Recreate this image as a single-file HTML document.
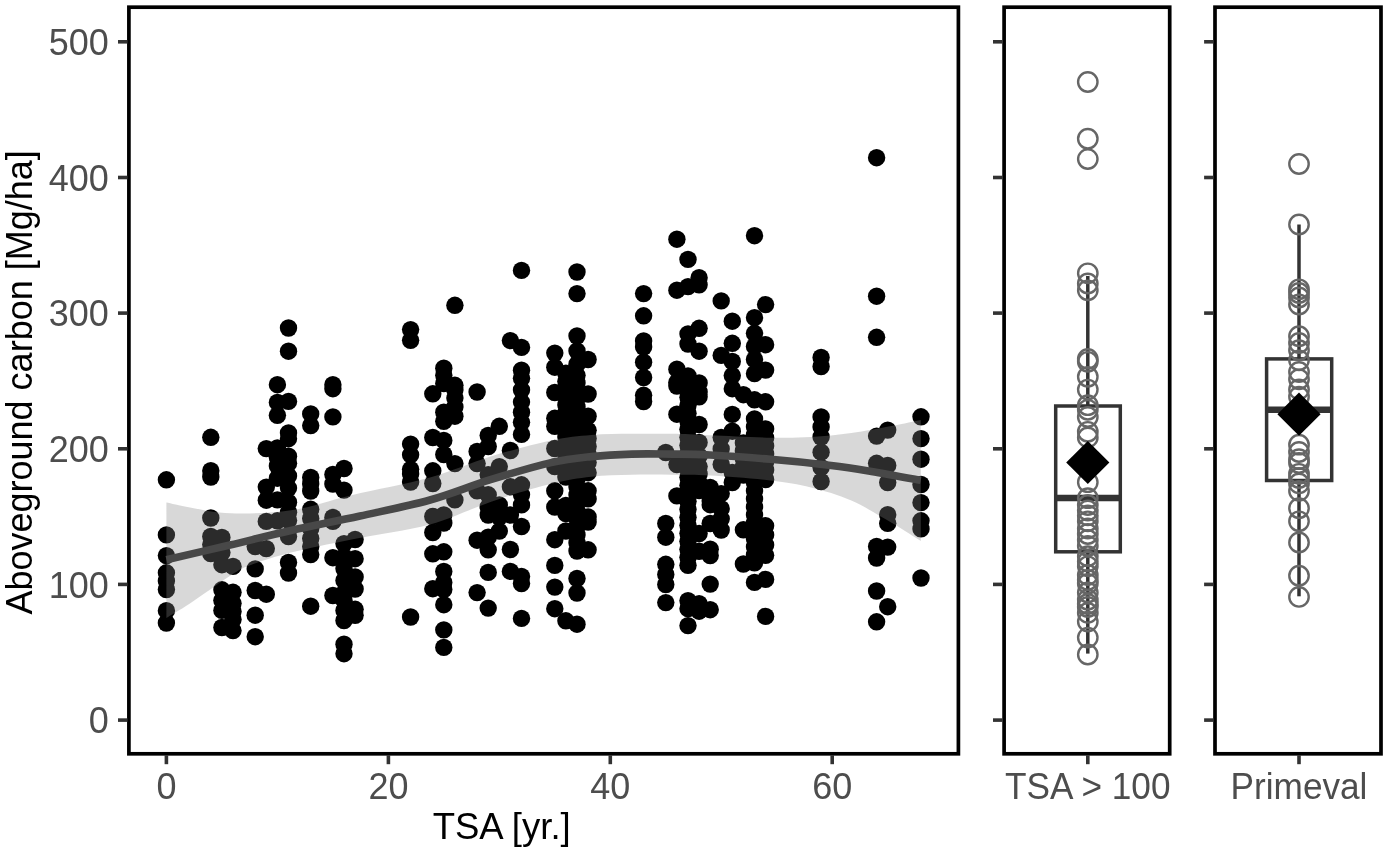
<!DOCTYPE html>
<html><head><meta charset="utf-8"><title>Aboveground carbon vs TSA</title>
<style>
html,body{margin:0;padding:0;background:#fff;}
svg{display:block}
text{font-family:"Liberation Sans",Arial,sans-serif;}
.tl{font-size:36px;fill:#4d4d4d}
.al{font-size:36px;fill:#000}
</style></head><body>
<svg width="1389" height="853" viewBox="0 0 1389 853">
<rect width="1389" height="853" fill="#fff"/>

<g fill="#000">
<circle cx="166.4" cy="479.8" r="8.7"/>
<circle cx="166.4" cy="534.9" r="8.7"/>
<circle cx="166.4" cy="555.6" r="8.7"/>
<circle cx="166.4" cy="572.8" r="8.7"/>
<circle cx="166.4" cy="581.0" r="8.7"/>
<circle cx="166.4" cy="589.5" r="8.7"/>
<circle cx="166.4" cy="610.7" r="8.7"/>
<circle cx="166.4" cy="623.0" r="8.7"/>
<circle cx="210.8" cy="437.3" r="8.7"/>
<circle cx="210.8" cy="470.7" r="8.7"/>
<circle cx="210.8" cy="477.0" r="8.7"/>
<circle cx="210.8" cy="518.0" r="8.7"/>
<circle cx="210.8" cy="536.5" r="8.7"/>
<circle cx="210.8" cy="544.6" r="8.7"/>
<circle cx="210.8" cy="553.6" r="8.7"/>
<circle cx="221.9" cy="537.5" r="8.7"/>
<circle cx="221.9" cy="552.6" r="8.7"/>
<circle cx="221.9" cy="564.7" r="8.7"/>
<circle cx="221.9" cy="589.8" r="8.7"/>
<circle cx="221.9" cy="600.3" r="8.7"/>
<circle cx="221.9" cy="610.4" r="8.7"/>
<circle cx="221.9" cy="627.5" r="8.7"/>
<circle cx="233.0" cy="566.4" r="8.7"/>
<circle cx="233.0" cy="592.3" r="8.7"/>
<circle cx="233.0" cy="603.3" r="8.7"/>
<circle cx="233.0" cy="611.4" r="8.7"/>
<circle cx="233.0" cy="619.5" r="8.7"/>
<circle cx="233.0" cy="630.6" r="8.7"/>
<circle cx="255.2" cy="546.6" r="8.7"/>
<circle cx="255.2" cy="568.9" r="8.7"/>
<circle cx="255.2" cy="590.5" r="8.7"/>
<circle cx="255.2" cy="615.2" r="8.7"/>
<circle cx="255.2" cy="636.7" r="8.7"/>
<circle cx="266.3" cy="448.6" r="8.7"/>
<circle cx="266.3" cy="487.1" r="8.7"/>
<circle cx="266.3" cy="500.2" r="8.7"/>
<circle cx="266.3" cy="521.4" r="8.7"/>
<circle cx="266.3" cy="548.6" r="8.7"/>
<circle cx="266.3" cy="594.2" r="8.7"/>
<circle cx="277.4" cy="384.7" r="8.7"/>
<circle cx="277.4" cy="402.4" r="8.7"/>
<circle cx="277.4" cy="415.3" r="8.7"/>
<circle cx="277.4" cy="448.0" r="8.7"/>
<circle cx="277.4" cy="457.5" r="8.7"/>
<circle cx="277.4" cy="466.0" r="8.7"/>
<circle cx="277.4" cy="478.2" r="8.7"/>
<circle cx="277.4" cy="499.9" r="8.7"/>
<circle cx="277.4" cy="520.8" r="8.7"/>
<circle cx="288.5" cy="328.0" r="8.7"/>
<circle cx="288.5" cy="351.2" r="8.7"/>
<circle cx="288.5" cy="401.4" r="8.7"/>
<circle cx="288.5" cy="433.0" r="8.7"/>
<circle cx="288.5" cy="438.7" r="8.7"/>
<circle cx="288.5" cy="456.2" r="8.7"/>
<circle cx="288.5" cy="463.3" r="8.7"/>
<circle cx="288.5" cy="476.0" r="8.7"/>
<circle cx="288.5" cy="488.1" r="8.7"/>
<circle cx="288.5" cy="502.2" r="8.7"/>
<circle cx="288.5" cy="512.3" r="8.7"/>
<circle cx="288.5" cy="520.4" r="8.7"/>
<circle cx="288.5" cy="536.5" r="8.7"/>
<circle cx="288.5" cy="562.5" r="8.7"/>
<circle cx="288.5" cy="573.0" r="8.7"/>
<circle cx="310.7" cy="413.9" r="8.7"/>
<circle cx="310.7" cy="425.6" r="8.7"/>
<circle cx="310.7" cy="477.5" r="8.7"/>
<circle cx="310.7" cy="484.0" r="8.7"/>
<circle cx="310.7" cy="491.0" r="8.7"/>
<circle cx="310.7" cy="509.3" r="8.7"/>
<circle cx="310.7" cy="518.4" r="8.7"/>
<circle cx="310.7" cy="528.4" r="8.7"/>
<circle cx="310.7" cy="538.5" r="8.7"/>
<circle cx="310.7" cy="546.6" r="8.7"/>
<circle cx="310.7" cy="554.6" r="8.7"/>
<circle cx="310.7" cy="606.2" r="8.7"/>
<circle cx="332.9" cy="384.7" r="8.7"/>
<circle cx="332.9" cy="388.7" r="8.7"/>
<circle cx="332.9" cy="416.9" r="8.7"/>
<circle cx="332.9" cy="474.5" r="8.7"/>
<circle cx="332.9" cy="484.0" r="8.7"/>
<circle cx="332.9" cy="517.4" r="8.7"/>
<circle cx="332.9" cy="521.4" r="8.7"/>
<circle cx="332.9" cy="557.7" r="8.7"/>
<circle cx="332.9" cy="595.5" r="8.7"/>
<circle cx="344.0" cy="468.5" r="8.7"/>
<circle cx="344.0" cy="490.1" r="8.7"/>
<circle cx="344.0" cy="543.6" r="8.7"/>
<circle cx="344.0" cy="556.7" r="8.7"/>
<circle cx="344.0" cy="568.8" r="8.7"/>
<circle cx="344.0" cy="580.5" r="8.7"/>
<circle cx="344.0" cy="592.9" r="8.7"/>
<circle cx="344.0" cy="600.3" r="8.7"/>
<circle cx="344.0" cy="610.4" r="8.7"/>
<circle cx="344.0" cy="620.5" r="8.7"/>
<circle cx="344.0" cy="644.2" r="8.7"/>
<circle cx="344.0" cy="653.7" r="8.7"/>
<circle cx="355.1" cy="539.5" r="8.7"/>
<circle cx="355.1" cy="558.7" r="8.7"/>
<circle cx="355.1" cy="577.0" r="8.7"/>
<circle cx="355.1" cy="589.0" r="8.7"/>
<circle cx="355.1" cy="609.3" r="8.7"/>
<circle cx="355.1" cy="615.3" r="8.7"/>
<circle cx="410.6" cy="329.6" r="8.7"/>
<circle cx="410.6" cy="340.3" r="8.7"/>
<circle cx="410.6" cy="444.1" r="8.7"/>
<circle cx="410.6" cy="454.8" r="8.7"/>
<circle cx="410.6" cy="469.3" r="8.7"/>
<circle cx="410.6" cy="474.0" r="8.7"/>
<circle cx="410.6" cy="482.1" r="8.7"/>
<circle cx="410.6" cy="617.0" r="8.7"/>
<circle cx="432.8" cy="393.8" r="8.7"/>
<circle cx="432.8" cy="437.5" r="8.7"/>
<circle cx="432.8" cy="470.8" r="8.7"/>
<circle cx="432.8" cy="483.5" r="8.7"/>
<circle cx="432.8" cy="516.5" r="8.7"/>
<circle cx="432.8" cy="532.5" r="8.7"/>
<circle cx="432.8" cy="553.8" r="8.7"/>
<circle cx="432.8" cy="588.7" r="8.7"/>
<circle cx="443.8" cy="368.2" r="8.7"/>
<circle cx="443.8" cy="375.3" r="8.7"/>
<circle cx="443.8" cy="383.5" r="8.7"/>
<circle cx="443.8" cy="412.2" r="8.7"/>
<circle cx="443.8" cy="421.3" r="8.7"/>
<circle cx="443.8" cy="440.4" r="8.7"/>
<circle cx="443.8" cy="454.5" r="8.7"/>
<circle cx="443.8" cy="515.0" r="8.7"/>
<circle cx="443.8" cy="523.0" r="8.7"/>
<circle cx="443.8" cy="551.8" r="8.7"/>
<circle cx="443.8" cy="571.4" r="8.7"/>
<circle cx="443.8" cy="582.5" r="8.7"/>
<circle cx="443.8" cy="589.5" r="8.7"/>
<circle cx="443.8" cy="604.7" r="8.7"/>
<circle cx="443.8" cy="629.9" r="8.7"/>
<circle cx="443.8" cy="647.4" r="8.7"/>
<circle cx="454.9" cy="305.3" r="8.7"/>
<circle cx="454.9" cy="385.3" r="8.7"/>
<circle cx="454.9" cy="390.0" r="8.7"/>
<circle cx="454.9" cy="398.1" r="8.7"/>
<circle cx="454.9" cy="407.0" r="8.7"/>
<circle cx="454.9" cy="416.2" r="8.7"/>
<circle cx="454.9" cy="463.6" r="8.7"/>
<circle cx="454.9" cy="499.9" r="8.7"/>
<circle cx="477.1" cy="392.0" r="8.7"/>
<circle cx="477.1" cy="451.5" r="8.7"/>
<circle cx="477.1" cy="463.6" r="8.7"/>
<circle cx="477.1" cy="490.8" r="8.7"/>
<circle cx="477.1" cy="540.2" r="8.7"/>
<circle cx="477.1" cy="592.6" r="8.7"/>
<circle cx="488.2" cy="435.4" r="8.7"/>
<circle cx="488.2" cy="446.5" r="8.7"/>
<circle cx="488.2" cy="474.7" r="8.7"/>
<circle cx="488.2" cy="494.8" r="8.7"/>
<circle cx="488.2" cy="507.0" r="8.7"/>
<circle cx="488.2" cy="515.0" r="8.7"/>
<circle cx="488.2" cy="537.2" r="8.7"/>
<circle cx="488.2" cy="549.8" r="8.7"/>
<circle cx="488.2" cy="572.4" r="8.7"/>
<circle cx="488.2" cy="608.1" r="8.7"/>
<circle cx="499.3" cy="426.3" r="8.7"/>
<circle cx="499.3" cy="466.6" r="8.7"/>
<circle cx="499.3" cy="504.9" r="8.7"/>
<circle cx="499.3" cy="517.0" r="8.7"/>
<circle cx="499.3" cy="531.1" r="8.7"/>
<circle cx="510.4" cy="340.6" r="8.7"/>
<circle cx="510.4" cy="450.5" r="8.7"/>
<circle cx="510.4" cy="486.8" r="8.7"/>
<circle cx="510.4" cy="515.0" r="8.7"/>
<circle cx="510.4" cy="549.5" r="8.7"/>
<circle cx="510.4" cy="571.4" r="8.7"/>
<circle cx="521.5" cy="270.4" r="8.7"/>
<circle cx="521.5" cy="347.4" r="8.7"/>
<circle cx="521.5" cy="370.2" r="8.7"/>
<circle cx="521.5" cy="378.3" r="8.7"/>
<circle cx="521.5" cy="390.0" r="8.7"/>
<circle cx="521.5" cy="402.1" r="8.7"/>
<circle cx="521.5" cy="412.2" r="8.7"/>
<circle cx="521.5" cy="422.3" r="8.7"/>
<circle cx="521.5" cy="434.4" r="8.7"/>
<circle cx="521.5" cy="484.8" r="8.7"/>
<circle cx="521.5" cy="494.8" r="8.7"/>
<circle cx="521.5" cy="504.9" r="8.7"/>
<circle cx="521.5" cy="526.5" r="8.7"/>
<circle cx="521.5" cy="576.4" r="8.7"/>
<circle cx="521.5" cy="583.5" r="8.7"/>
<circle cx="521.5" cy="618.4" r="8.7"/>
<circle cx="554.8" cy="353.1" r="8.7"/>
<circle cx="554.8" cy="367.2" r="8.7"/>
<circle cx="554.8" cy="392.5" r="8.7"/>
<circle cx="554.8" cy="418.3" r="8.7"/>
<circle cx="554.8" cy="426.3" r="8.7"/>
<circle cx="554.8" cy="448.5" r="8.7"/>
<circle cx="554.8" cy="466.6" r="8.7"/>
<circle cx="554.8" cy="490.8" r="8.7"/>
<circle cx="554.8" cy="507.0" r="8.7"/>
<circle cx="554.8" cy="539.7" r="8.7"/>
<circle cx="554.8" cy="565.4" r="8.7"/>
<circle cx="554.8" cy="587.1" r="8.7"/>
<circle cx="554.8" cy="608.7" r="8.7"/>
<circle cx="565.9" cy="373.2" r="8.7"/>
<circle cx="565.9" cy="381.3" r="8.7"/>
<circle cx="565.9" cy="389.0" r="8.7"/>
<circle cx="565.9" cy="397.0" r="8.7"/>
<circle cx="565.9" cy="405.0" r="8.7"/>
<circle cx="565.9" cy="413.0" r="8.7"/>
<circle cx="565.9" cy="421.0" r="8.7"/>
<circle cx="565.9" cy="429.0" r="8.7"/>
<circle cx="565.9" cy="437.0" r="8.7"/>
<circle cx="565.9" cy="445.0" r="8.7"/>
<circle cx="565.9" cy="453.0" r="8.7"/>
<circle cx="565.9" cy="461.0" r="8.7"/>
<circle cx="565.9" cy="469.0" r="8.7"/>
<circle cx="565.9" cy="477.0" r="8.7"/>
<circle cx="565.9" cy="505.5" r="8.7"/>
<circle cx="565.9" cy="513.5" r="8.7"/>
<circle cx="565.9" cy="531.0" r="8.7"/>
<circle cx="565.9" cy="620.8" r="8.7"/>
<circle cx="577.0" cy="272.0" r="8.7"/>
<circle cx="577.0" cy="293.6" r="8.7"/>
<circle cx="577.0" cy="336.0" r="8.7"/>
<circle cx="577.0" cy="351.0" r="8.7"/>
<circle cx="577.0" cy="364.2" r="8.7"/>
<circle cx="577.0" cy="375.3" r="8.7"/>
<circle cx="577.0" cy="383.0" r="8.7"/>
<circle cx="577.0" cy="391.0" r="8.7"/>
<circle cx="577.0" cy="399.0" r="8.7"/>
<circle cx="577.0" cy="407.0" r="8.7"/>
<circle cx="577.0" cy="415.0" r="8.7"/>
<circle cx="577.0" cy="423.0" r="8.7"/>
<circle cx="577.0" cy="431.0" r="8.7"/>
<circle cx="577.0" cy="439.0" r="8.7"/>
<circle cx="577.0" cy="447.0" r="8.7"/>
<circle cx="577.0" cy="455.0" r="8.7"/>
<circle cx="577.0" cy="463.0" r="8.7"/>
<circle cx="577.0" cy="471.0" r="8.7"/>
<circle cx="577.0" cy="479.0" r="8.7"/>
<circle cx="577.0" cy="487.0" r="8.7"/>
<circle cx="577.0" cy="495.0" r="8.7"/>
<circle cx="577.0" cy="503.0" r="8.7"/>
<circle cx="577.0" cy="511.0" r="8.7"/>
<circle cx="577.0" cy="519.0" r="8.7"/>
<circle cx="577.0" cy="527.0" r="8.7"/>
<circle cx="577.0" cy="535.0" r="8.7"/>
<circle cx="577.0" cy="543.0" r="8.7"/>
<circle cx="577.0" cy="551.0" r="8.7"/>
<circle cx="577.0" cy="578.5" r="8.7"/>
<circle cx="577.0" cy="593.0" r="8.7"/>
<circle cx="577.0" cy="624.2" r="8.7"/>
<circle cx="588.1" cy="359.5" r="8.7"/>
<circle cx="588.1" cy="394.0" r="8.7"/>
<circle cx="588.1" cy="416.2" r="8.7"/>
<circle cx="588.1" cy="430.3" r="8.7"/>
<circle cx="588.1" cy="438.4" r="8.7"/>
<circle cx="588.1" cy="446.5" r="8.7"/>
<circle cx="588.1" cy="454.5" r="8.7"/>
<circle cx="588.1" cy="462.6" r="8.7"/>
<circle cx="588.1" cy="472.7" r="8.7"/>
<circle cx="588.1" cy="490.8" r="8.7"/>
<circle cx="588.1" cy="498.9" r="8.7"/>
<circle cx="588.1" cy="517.0" r="8.7"/>
<circle cx="588.1" cy="522.0" r="8.7"/>
<circle cx="588.1" cy="549.8" r="8.7"/>
<circle cx="643.6" cy="293.6" r="8.7"/>
<circle cx="643.6" cy="315.8" r="8.7"/>
<circle cx="643.6" cy="341.0" r="8.7"/>
<circle cx="643.6" cy="347.0" r="8.7"/>
<circle cx="643.6" cy="362.2" r="8.7"/>
<circle cx="643.6" cy="377.5" r="8.7"/>
<circle cx="643.6" cy="395.3" r="8.7"/>
<circle cx="643.6" cy="401.5" r="8.7"/>
<circle cx="665.8" cy="452.5" r="8.7"/>
<circle cx="665.8" cy="523.5" r="8.7"/>
<circle cx="665.8" cy="537.2" r="8.7"/>
<circle cx="665.8" cy="564.3" r="8.7"/>
<circle cx="665.8" cy="574.4" r="8.7"/>
<circle cx="665.8" cy="584.5" r="8.7"/>
<circle cx="665.8" cy="602.6" r="8.7"/>
<circle cx="676.9" cy="239.2" r="8.7"/>
<circle cx="676.9" cy="290.2" r="8.7"/>
<circle cx="676.9" cy="369.2" r="8.7"/>
<circle cx="676.9" cy="382.3" r="8.7"/>
<circle cx="676.9" cy="386.0" r="8.7"/>
<circle cx="676.9" cy="414.2" r="8.7"/>
<circle cx="676.9" cy="464.6" r="8.7"/>
<circle cx="676.9" cy="495.9" r="8.7"/>
<circle cx="688.0" cy="259.4" r="8.7"/>
<circle cx="688.0" cy="286.6" r="8.7"/>
<circle cx="688.0" cy="333.9" r="8.7"/>
<circle cx="688.0" cy="344.0" r="8.7"/>
<circle cx="688.0" cy="376.0" r="8.7"/>
<circle cx="688.0" cy="381.3" r="8.7"/>
<circle cx="688.0" cy="389.3" r="8.7"/>
<circle cx="688.0" cy="397.3" r="8.7"/>
<circle cx="688.0" cy="405.3" r="8.7"/>
<circle cx="688.0" cy="413.3" r="8.7"/>
<circle cx="688.0" cy="421.3" r="8.7"/>
<circle cx="688.0" cy="429.3" r="8.7"/>
<circle cx="688.0" cy="437.3" r="8.7"/>
<circle cx="688.0" cy="445.3" r="8.7"/>
<circle cx="688.0" cy="453.3" r="8.7"/>
<circle cx="688.0" cy="461.3" r="8.7"/>
<circle cx="688.0" cy="469.3" r="8.7"/>
<circle cx="688.0" cy="477.3" r="8.7"/>
<circle cx="688.0" cy="485.3" r="8.7"/>
<circle cx="688.0" cy="493.3" r="8.7"/>
<circle cx="688.0" cy="501.3" r="8.7"/>
<circle cx="688.0" cy="509.3" r="8.7"/>
<circle cx="688.0" cy="517.3" r="8.7"/>
<circle cx="688.0" cy="525.3" r="8.7"/>
<circle cx="688.0" cy="533.3" r="8.7"/>
<circle cx="688.0" cy="541.3" r="8.7"/>
<circle cx="688.0" cy="549.3" r="8.7"/>
<circle cx="688.0" cy="557.3" r="8.7"/>
<circle cx="688.0" cy="565.3" r="8.7"/>
<circle cx="688.0" cy="600.6" r="8.7"/>
<circle cx="688.0" cy="608.7" r="8.7"/>
<circle cx="688.0" cy="625.6" r="8.7"/>
<circle cx="699.1" cy="277.7" r="8.7"/>
<circle cx="699.1" cy="284.8" r="8.7"/>
<circle cx="699.1" cy="328.3" r="8.7"/>
<circle cx="699.1" cy="351.2" r="8.7"/>
<circle cx="699.1" cy="382.9" r="8.7"/>
<circle cx="699.1" cy="392.0" r="8.7"/>
<circle cx="699.1" cy="396.8" r="8.7"/>
<circle cx="699.1" cy="424.5" r="8.7"/>
<circle cx="699.1" cy="442.4" r="8.7"/>
<circle cx="699.1" cy="456.0" r="8.7"/>
<circle cx="699.1" cy="466.6" r="8.7"/>
<circle cx="699.1" cy="474.0" r="8.7"/>
<circle cx="699.1" cy="482.8" r="8.7"/>
<circle cx="699.1" cy="490.6" r="8.7"/>
<circle cx="699.1" cy="533.5" r="8.7"/>
<circle cx="699.1" cy="551.3" r="8.7"/>
<circle cx="699.1" cy="603.7" r="8.7"/>
<circle cx="699.1" cy="611.2" r="8.7"/>
<circle cx="710.2" cy="487.5" r="8.7"/>
<circle cx="710.2" cy="500.9" r="8.7"/>
<circle cx="710.2" cy="504.7" r="8.7"/>
<circle cx="710.2" cy="523.5" r="8.7"/>
<circle cx="710.2" cy="549.2" r="8.7"/>
<circle cx="710.2" cy="555.6" r="8.7"/>
<circle cx="710.2" cy="584.1" r="8.7"/>
<circle cx="710.2" cy="609.7" r="8.7"/>
<circle cx="721.2" cy="300.9" r="8.7"/>
<circle cx="721.2" cy="355.4" r="8.7"/>
<circle cx="721.2" cy="437.5" r="8.7"/>
<circle cx="721.2" cy="449.0" r="8.7"/>
<circle cx="721.2" cy="464.5" r="8.7"/>
<circle cx="721.2" cy="493.6" r="8.7"/>
<circle cx="721.2" cy="508.7" r="8.7"/>
<circle cx="721.2" cy="518.8" r="8.7"/>
<circle cx="721.2" cy="530.0" r="8.7"/>
<circle cx="732.3" cy="321.2" r="8.7"/>
<circle cx="732.3" cy="343.3" r="8.7"/>
<circle cx="732.3" cy="361.5" r="8.7"/>
<circle cx="732.3" cy="375.6" r="8.7"/>
<circle cx="732.3" cy="388.7" r="8.7"/>
<circle cx="732.3" cy="414.4" r="8.7"/>
<circle cx="732.3" cy="431.2" r="8.7"/>
<circle cx="732.3" cy="472.5" r="8.7"/>
<circle cx="732.3" cy="482.5" r="8.7"/>
<circle cx="743.4" cy="394.7" r="8.7"/>
<circle cx="743.4" cy="443.0" r="8.7"/>
<circle cx="743.4" cy="451.0" r="8.7"/>
<circle cx="743.4" cy="459.0" r="8.7"/>
<circle cx="743.4" cy="467.0" r="8.7"/>
<circle cx="743.4" cy="475.0" r="8.7"/>
<circle cx="743.4" cy="529.8" r="8.7"/>
<circle cx="743.4" cy="564.0" r="8.7"/>
<circle cx="754.5" cy="235.7" r="8.7"/>
<circle cx="754.5" cy="317.7" r="8.7"/>
<circle cx="754.5" cy="333.3" r="8.7"/>
<circle cx="754.5" cy="346.4" r="8.7"/>
<circle cx="754.5" cy="359.5" r="8.7"/>
<circle cx="754.5" cy="373.6" r="8.7"/>
<circle cx="754.5" cy="399.8" r="8.7"/>
<circle cx="754.5" cy="418.9" r="8.7"/>
<circle cx="754.5" cy="426.9" r="8.7"/>
<circle cx="754.5" cy="434.9" r="8.7"/>
<circle cx="754.5" cy="442.9" r="8.7"/>
<circle cx="754.5" cy="450.9" r="8.7"/>
<circle cx="754.5" cy="458.9" r="8.7"/>
<circle cx="754.5" cy="466.9" r="8.7"/>
<circle cx="754.5" cy="474.9" r="8.7"/>
<circle cx="754.5" cy="482.9" r="8.7"/>
<circle cx="754.5" cy="490.9" r="8.7"/>
<circle cx="754.5" cy="498.9" r="8.7"/>
<circle cx="754.5" cy="506.9" r="8.7"/>
<circle cx="754.5" cy="514.9" r="8.7"/>
<circle cx="754.5" cy="522.9" r="8.7"/>
<circle cx="754.5" cy="530.9" r="8.7"/>
<circle cx="754.5" cy="538.9" r="8.7"/>
<circle cx="754.5" cy="546.9" r="8.7"/>
<circle cx="754.5" cy="554.9" r="8.7"/>
<circle cx="754.5" cy="562.9" r="8.7"/>
<circle cx="754.5" cy="582.4" r="8.7"/>
<circle cx="765.6" cy="304.6" r="8.7"/>
<circle cx="765.6" cy="344.7" r="8.7"/>
<circle cx="765.6" cy="370.1" r="8.7"/>
<circle cx="765.6" cy="401.8" r="8.7"/>
<circle cx="765.6" cy="429.0" r="8.7"/>
<circle cx="765.6" cy="438.0" r="8.7"/>
<circle cx="765.6" cy="446.0" r="8.7"/>
<circle cx="765.6" cy="454.0" r="8.7"/>
<circle cx="765.6" cy="462.0" r="8.7"/>
<circle cx="765.6" cy="470.0" r="8.7"/>
<circle cx="765.6" cy="479.5" r="8.7"/>
<circle cx="765.6" cy="525.8" r="8.7"/>
<circle cx="765.6" cy="534.9" r="8.7"/>
<circle cx="765.6" cy="545.0" r="8.7"/>
<circle cx="765.6" cy="555.3" r="8.7"/>
<circle cx="765.6" cy="579.4" r="8.7"/>
<circle cx="765.6" cy="616.4" r="8.7"/>
<circle cx="821.1" cy="357.4" r="8.7"/>
<circle cx="821.1" cy="366.5" r="8.7"/>
<circle cx="821.1" cy="416.9" r="8.7"/>
<circle cx="821.1" cy="427.0" r="8.7"/>
<circle cx="821.1" cy="437.0" r="8.7"/>
<circle cx="821.1" cy="452.2" r="8.7"/>
<circle cx="821.1" cy="467.4" r="8.7"/>
<circle cx="821.1" cy="481.5" r="8.7"/>
<circle cx="876.6" cy="157.7" r="8.7"/>
<circle cx="876.6" cy="296.2" r="8.7"/>
<circle cx="876.6" cy="337.3" r="8.7"/>
<circle cx="876.6" cy="436.1" r="8.7"/>
<circle cx="876.6" cy="463.3" r="8.7"/>
<circle cx="876.6" cy="546.4" r="8.7"/>
<circle cx="876.6" cy="558.0" r="8.7"/>
<circle cx="876.6" cy="591.0" r="8.7"/>
<circle cx="876.6" cy="621.8" r="8.7"/>
<circle cx="887.7" cy="430.1" r="8.7"/>
<circle cx="887.7" cy="465.4" r="8.7"/>
<circle cx="887.7" cy="482.5" r="8.7"/>
<circle cx="887.7" cy="514.7" r="8.7"/>
<circle cx="887.7" cy="523.3" r="8.7"/>
<circle cx="887.7" cy="547.1" r="8.7"/>
<circle cx="887.7" cy="606.7" r="8.7"/>
<circle cx="921.0" cy="416.8" r="8.7"/>
<circle cx="921.0" cy="438.6" r="8.7"/>
<circle cx="921.0" cy="459.2" r="8.7"/>
<circle cx="921.0" cy="484.5" r="8.7"/>
<circle cx="921.0" cy="502.6" r="8.7"/>
<circle cx="921.0" cy="520.8" r="8.7"/>
<circle cx="921.0" cy="528.9" r="8.7"/>
<circle cx="921.0" cy="578.0" r="8.7"/>
</g>
<path d="M166.4,502.6 C170.3,503.4 179.3,505.7 190.0,507.5 C200.7,509.3 213.8,512.8 230.6,513.3 C247.4,513.8 270.8,513.3 291.0,510.3 C311.2,507.3 328.4,500.7 351.6,495.2 C374.8,489.7 406.9,483.9 430.0,477.5 C453.1,471.1 470.3,462.8 490.5,456.6 C510.7,450.4 534.2,444.0 551.0,440.4 C567.8,436.8 577.9,436.1 591.3,435.0 C604.7,433.9 618.2,434.0 631.6,433.8 C645.0,433.6 658.8,433.6 671.9,433.8 C685.0,434.0 693.5,434.6 710.0,435.2 C726.5,435.8 753.8,437.4 770.6,437.7 C787.4,438.0 797.5,437.9 811.0,437.1 C824.5,436.3 837.9,435.0 851.3,433.1 C864.7,431.2 880.0,428.2 891.6,426.0 C903.2,423.8 915.9,421.0 920.8,420.0 L920.8,541.0 C915.9,538.0 903.2,529.5 891.6,522.8 C880.0,516.1 864.7,506.5 851.3,500.6 C837.9,494.7 824.5,490.9 811.0,487.5 C797.5,484.1 787.4,482.5 770.6,480.5 C753.8,478.5 726.5,476.6 710.0,475.6 C693.5,474.6 685.0,474.9 671.9,474.7 C658.8,474.5 645.0,474.4 631.6,474.7 C618.2,475.0 604.7,475.2 591.3,476.7 C577.9,478.2 567.8,479.6 551.0,483.8 C534.2,488.0 510.7,495.1 490.5,501.9 C470.3,508.7 453.1,518.2 430.0,524.5 C406.9,530.8 374.8,534.8 351.6,539.5 C328.4,544.2 307.8,548.4 291.0,552.6 C274.2,556.9 260.9,561.2 250.8,565.0 C240.7,568.8 240.7,569.1 230.6,575.5 C220.5,581.9 201.0,596.2 190.3,603.3 C179.6,610.4 170.4,615.5 166.4,618.0 Z" fill="#858585" fill-opacity="0.32"/>
<path d="M166.4,559.7 C177.0,557.2 209.2,549.9 230.0,545.0 C250.8,540.1 269.3,535.3 291.0,530.5 C312.7,525.7 336.8,521.1 360.0,516.0 C383.2,510.9 408.2,506.1 430.0,500.0 C451.8,493.9 470.3,485.9 490.5,479.7 C510.7,473.5 534.2,466.5 551.0,462.6 C567.8,458.8 577.9,458.0 591.3,456.6 C604.7,455.2 618.2,454.5 631.6,454.1 C645.0,453.7 658.8,454.0 671.9,454.1 C685.0,454.2 693.5,454.1 710.0,455.0 C726.5,455.9 750.4,457.6 770.6,459.3 C790.8,461.0 814.3,463.4 831.1,465.4 C847.9,467.4 856.5,468.9 871.4,471.4 C886.3,473.9 912.6,478.8 920.8,480.3" fill="none" stroke="#484848" stroke-width="7.6"/>
<g fill="none" stroke="#333" stroke-width="3.5">
<line x1="1087.8" x2="1087.8" y1="276" y2="406"/>
<line x1="1087.8" x2="1087.8" y1="551.8" y2="653.6"/>
<rect x="1055.7" y="406" width="64.59999999999991" height="145.79999999999995" fill="#fff"/>
<line x1="1055.7" x2="1120.3" y1="498" y2="498" stroke-width="6.6"/>
</g>
<g fill="none" stroke="#666" stroke-width="2.4">
<circle cx="1087.8" cy="82" r="9.7"/>
<circle cx="1087.8" cy="138.7" r="9.7"/>
<circle cx="1087.8" cy="159.1" r="9.7"/>
<circle cx="1087.8" cy="273.3" r="9.7"/>
<circle cx="1087.8" cy="283.5" r="9.7"/>
<circle cx="1087.8" cy="290.3" r="9.7"/>
<circle cx="1087.8" cy="358.9" r="9.7"/>
<circle cx="1087.8" cy="361.8" r="9.7"/>
<circle cx="1087.8" cy="376.8" r="9.7"/>
<circle cx="1087.8" cy="389.6" r="9.7"/>
<circle cx="1087.8" cy="405.2" r="9.7"/>
<circle cx="1087.8" cy="409.8" r="9.7"/>
<circle cx="1087.8" cy="417" r="9.7"/>
<circle cx="1087.8" cy="431.8" r="9.7"/>
<circle cx="1087.8" cy="437.4" r="9.7"/>
<circle cx="1087.8" cy="482.2" r="9.7"/>
<circle cx="1087.8" cy="498.2" r="9.7"/>
<circle cx="1087.8" cy="505" r="9.7"/>
<circle cx="1087.8" cy="510.5" r="9.7"/>
<circle cx="1087.8" cy="515.4" r="9.7"/>
<circle cx="1087.8" cy="521.3" r="9.7"/>
<circle cx="1087.8" cy="528.5" r="9.7"/>
<circle cx="1087.8" cy="534" r="9.7"/>
<circle cx="1087.8" cy="540" r="9.7"/>
<circle cx="1087.8" cy="546" r="9.7"/>
<circle cx="1087.8" cy="556.2" r="9.7"/>
<circle cx="1087.8" cy="561.5" r="9.7"/>
<circle cx="1087.8" cy="566.3" r="9.7"/>
<circle cx="1087.8" cy="575" r="9.7"/>
<circle cx="1087.8" cy="580" r="9.7"/>
<circle cx="1087.8" cy="583.8" r="9.7"/>
<circle cx="1087.8" cy="592.5" r="9.7"/>
<circle cx="1087.8" cy="599.8" r="9.7"/>
<circle cx="1087.8" cy="604" r="9.7"/>
<circle cx="1087.8" cy="607" r="9.7"/>
<circle cx="1087.8" cy="612.9" r="9.7"/>
<circle cx="1087.8" cy="621.6" r="9.7"/>
<circle cx="1087.8" cy="637.6" r="9.7"/>
<circle cx="1087.8" cy="654.5" r="9.7"/>
</g>
<path d="M1066.2,462.5 L1087.8,440.9 L1109.3999999999999,462.5 L1087.8,484.1 Z" fill="#000"/>
<g fill="none" stroke="#333" stroke-width="3.5">
<line x1="1299.0" x2="1299.0" y1="224.5" y2="358.9"/>
<line x1="1299.0" x2="1299.0" y1="480.5" y2="596.3"/>
<rect x="1266.6" y="358.9" width="65.10000000000014" height="121.60000000000002" fill="#fff"/>
<line x1="1266.6" x2="1331.7" y1="409.8" y2="409.8" stroke-width="6.6"/>
</g>
<g fill="none" stroke="#666" stroke-width="2.4">
<circle cx="1299.0" cy="164" r="9.7"/>
<circle cx="1299.0" cy="224.5" r="9.7"/>
<circle cx="1299.0" cy="289.3" r="9.7"/>
<circle cx="1299.0" cy="293" r="9.7"/>
<circle cx="1299.0" cy="297.5" r="9.7"/>
<circle cx="1299.0" cy="304.5" r="9.7"/>
<circle cx="1299.0" cy="336.2" r="9.7"/>
<circle cx="1299.0" cy="343" r="9.7"/>
<circle cx="1299.0" cy="350.2" r="9.7"/>
<circle cx="1299.0" cy="360.3" r="9.7"/>
<circle cx="1299.0" cy="372" r="9.7"/>
<circle cx="1299.0" cy="379.3" r="9.7"/>
<circle cx="1299.0" cy="389.4" r="9.7"/>
<circle cx="1299.0" cy="396.7" r="9.7"/>
<circle cx="1299.0" cy="444.7" r="9.7"/>
<circle cx="1299.0" cy="452" r="9.7"/>
<circle cx="1299.0" cy="459.2" r="9.7"/>
<circle cx="1299.0" cy="463" r="9.7"/>
<circle cx="1299.0" cy="473.8" r="9.7"/>
<circle cx="1299.0" cy="478" r="9.7"/>
<circle cx="1299.0" cy="483.4" r="9.7"/>
<circle cx="1299.0" cy="490.9" r="9.7"/>
<circle cx="1299.0" cy="508.2" r="9.7"/>
<circle cx="1299.0" cy="521.3" r="9.7"/>
<circle cx="1299.0" cy="542.5" r="9.7"/>
<circle cx="1299.0" cy="575.7" r="9.7"/>
<circle cx="1299.0" cy="596.9" r="9.7"/>
</g>
<path d="M1277.4,414.2 L1299.0,392.59999999999997 L1320.6,414.2 L1299.0,435.8 Z" fill="#000"/>
<g fill="none" stroke="#000" stroke-width="3.7">
<rect x="128.9" y="7.2" width="829.5" height="746.6"/>
<rect x="1004.1" y="7.2" width="165.6" height="746.6"/>
<rect x="1215" y="7.2" width="166" height="746.6"/>
</g>
<g stroke="#333" stroke-width="3.6">
<line x1="118" x2="127.5" y1="720.1" y2="720.1"/>
<line x1="993" x2="1002.5" y1="720.1" y2="720.1"/>
<line x1="1204.1" x2="1213.5" y1="720.1" y2="720.1"/>
<line x1="118" x2="127.5" y1="584.4" y2="584.4"/>
<line x1="993" x2="1002.5" y1="584.4" y2="584.4"/>
<line x1="1204.1" x2="1213.5" y1="584.4" y2="584.4"/>
<line x1="118" x2="127.5" y1="448.8" y2="448.8"/>
<line x1="993" x2="1002.5" y1="448.8" y2="448.8"/>
<line x1="1204.1" x2="1213.5" y1="448.8" y2="448.8"/>
<line x1="118" x2="127.5" y1="313.1" y2="313.1"/>
<line x1="993" x2="1002.5" y1="313.1" y2="313.1"/>
<line x1="1204.1" x2="1213.5" y1="313.1" y2="313.1"/>
<line x1="118" x2="127.5" y1="177.5" y2="177.5"/>
<line x1="993" x2="1002.5" y1="177.5" y2="177.5"/>
<line x1="1204.1" x2="1213.5" y1="177.5" y2="177.5"/>
<line x1="118" x2="127.5" y1="41.8" y2="41.8"/>
<line x1="993" x2="1002.5" y1="41.8" y2="41.8"/>
<line x1="1204.1" x2="1213.5" y1="41.8" y2="41.8"/>
<line x1="166.4" x2="166.4" y1="755.2" y2="764.2"/>
<line x1="388.4" x2="388.4" y1="755.2" y2="764.2"/>
<line x1="610.3" x2="610.3" y1="755.2" y2="764.2"/>
<line x1="832.2" x2="832.2" y1="755.2" y2="764.2"/>
<line x1="1087.8" x2="1087.8" y1="755.2" y2="764.2"/>
<line x1="1299" x2="1299" y1="755.2" y2="764.2"/>
</g>
<text class="tl" x="108.8" y="733.3" text-anchor="end">0</text>
<text class="tl" x="108.8" y="597.6" text-anchor="end">100</text>
<text class="tl" x="108.8" y="462.0" text-anchor="end">200</text>
<text class="tl" x="108.8" y="326.3" text-anchor="end">300</text>
<text class="tl" x="108.8" y="190.7" text-anchor="end">400</text>
<text class="tl" x="108.8" y="55.0" text-anchor="end">500</text>
<text class="tl" x="166.4" y="798.6" text-anchor="middle">0</text>
<text class="tl" x="388.4" y="798.6" text-anchor="middle">20</text>
<text class="tl" x="610.3" y="798.6" text-anchor="middle">40</text>
<text class="tl" x="832.2" y="798.6" text-anchor="middle">60</text>
<text class="tl" x="1087.8" y="798.6" text-anchor="middle" textLength="165.4" lengthAdjust="spacingAndGlyphs">TSA &gt; 100</text>
<text class="tl" x="1299" y="798.6" text-anchor="middle" textLength="136.9" lengthAdjust="spacingAndGlyphs">Primeval</text>
<text class="al" x="501.7" y="838.8" text-anchor="middle" textLength="138" lengthAdjust="spacingAndGlyphs">TSA [yr.]</text>
<text class="al" transform="translate(31.6,382.4) rotate(-90)" text-anchor="middle">Aboveground carbon [Mg/ha]</text>
</svg></body></html>
